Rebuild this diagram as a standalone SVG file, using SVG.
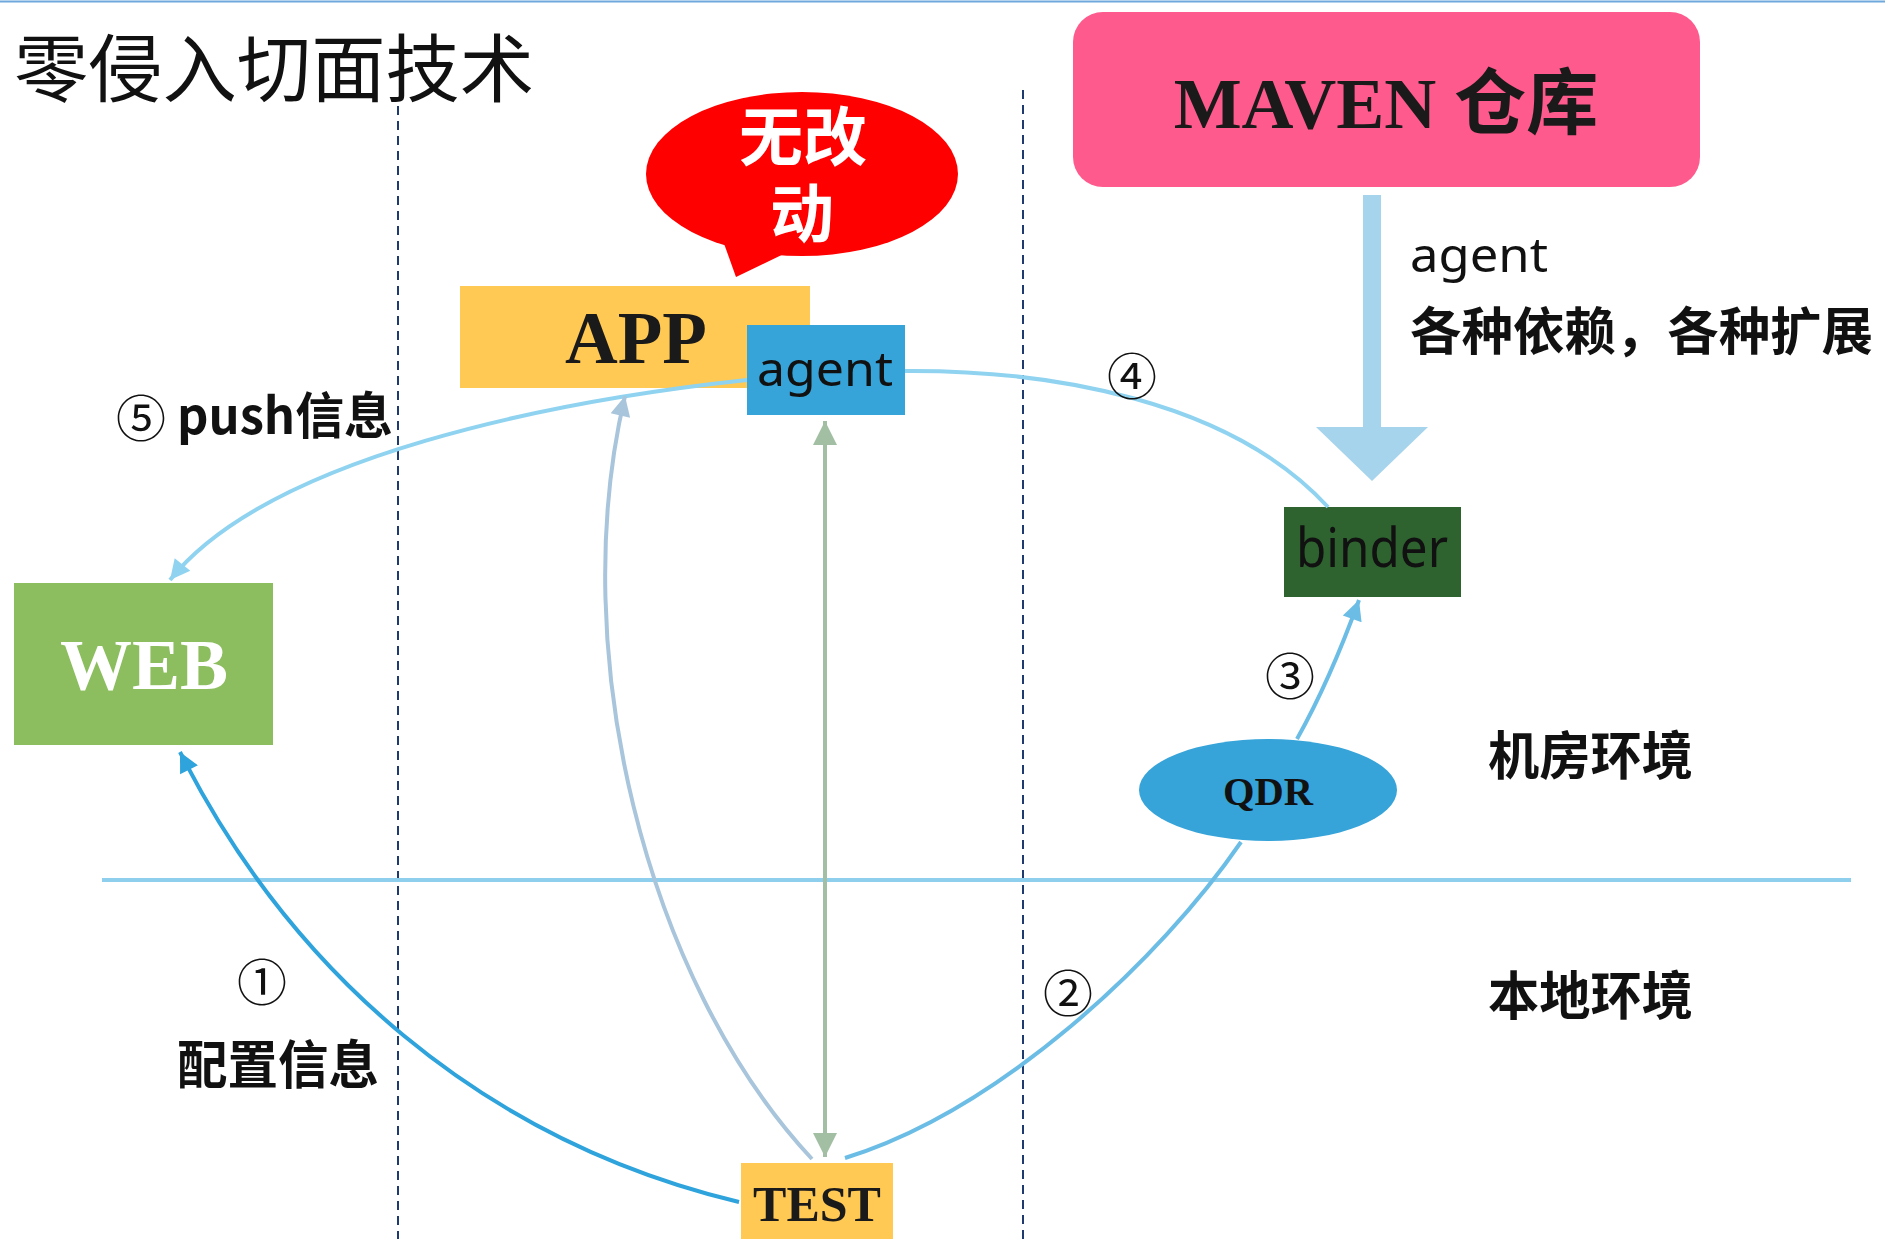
<svg xmlns="http://www.w3.org/2000/svg" width="1885" height="1239" viewBox="0 0 1885 1239">
<style>
.cjk{font-family:"Noto Sans CJK SC","Noto Sans",sans-serif;fill:#111}
.serifb{font-family:"Liberation Serif","Noto Sans CJK SC",serif;font-weight:bold;fill:#1a1a1a}
.sans{font-family:"Noto Sans","Liberation Sans",sans-serif;fill:#111}
.num{font-family:"DejaVu Serif","Noto Sans CJK SC",serif;font-size:50px;fill:#111;text-anchor:middle}
.dash{stroke:#1f3a6e;stroke-width:2;stroke-dasharray:9,6;fill:none}
.conn{fill:none;stroke-width:4}
.bub{font-family:"Liberation Sans","Noto Sans CJK SC",sans-serif;font-size:64px;font-weight:bold;fill:#ffffff;text-anchor:middle}
</style>
<defs>
<marker id="aBlue" viewBox="0 0 10 10" refX="10" refY="5" markerWidth="26" markerHeight="20" markerUnits="userSpaceOnUse" orient="auto"><path d="M0,0 L10,5 L0,10 z" fill="#2ea3dc"/></marker>
<marker id="aLight" viewBox="0 0 10 10" refX="10" refY="5" markerWidth="26" markerHeight="20" markerUnits="userSpaceOnUse" orient="auto"><path d="M0,0 L10,5 L0,10 z" fill="#8fd3f0"/></marker>
<marker id="aMid" viewBox="0 0 10 10" refX="10" refY="5" markerWidth="26" markerHeight="20" markerUnits="userSpaceOnUse" orient="auto"><path d="M0,0 L10,5 L0,10 z" fill="#6cbde6"/></marker>
<marker id="aGray" viewBox="0 0 10 10" refX="10" refY="5" markerWidth="26" markerHeight="20" markerUnits="userSpaceOnUse" orient="auto"><path d="M0,0 L10,5 L0,10 z" fill="#a8c5dc"/></marker>
<marker id="aGreen" viewBox="0 0 10 10" refX="10" refY="5" markerWidth="28" markerHeight="24" markerUnits="userSpaceOnUse" orient="auto-start-reverse"><path d="M0,0 L10,5 L0,10 z" fill="#a3bfa3"/></marker>
</defs>
<rect x="0" y="0" width="1885" height="1239" fill="#ffffff"/>
<line x1="0" y1="1.5" x2="1885" y2="1.5" stroke="#6fa8dc" stroke-width="2"/>

<text class="cjk" x="14" y="96" font-size="74" textLength="520" lengthAdjust="spacingAndGlyphs">零侵入切面技术</text>

<g id="dividers">
<line class="dash" x1="398" y1="106" x2="398" y2="1239"/>
<line class="dash" x1="1023" y1="90" x2="1023" y2="1239"/>
<line x1="102" y1="880" x2="1851" y2="880" stroke="#8ecfee" stroke-width="4"/>
</g>

<g id="maven">
<rect x="1073" y="12" width="627" height="175" rx="30" fill="#fe5a8d"/>
<text class="serifb" x="1386" y="128" font-size="72" text-anchor="middle">MAVEN 仓库</text>
</g>

<g id="bubble">
<ellipse cx="802" cy="174" rx="156" ry="82" fill="#fe0000"/>
<polygon points="722,238 736,277 792,250" fill="#fe0000"/>
<text class="bub" x="803" y="160">无改</text>
<text class="bub" x="802" y="237">动</text>
</g>

<g id="app">
<rect x="460" y="286" width="350" height="102" fill="#ffc954"/>
<text class="serifb" x="636" y="363" font-size="73" text-anchor="middle">APP</text>
</g>

<g id="web">
<rect x="14" y="583" width="259" height="162" fill="#8cbd5f"/>
<text class="serifb" x="144" y="689" font-size="72" text-anchor="middle" style="fill:#ffffff">WEB</text>
</g>

<g id="test">
<rect x="741" y="1163" width="152" height="80" fill="#ffc954"/>
<text class="serifb" x="817" y="1221" font-size="50" text-anchor="middle">TEST</text>
</g>

<g id="binder">
<rect x="1284" y="507" width="177" height="90" fill="#2e6330"/>
<text class="sans" x="1296" y="567" font-size="54" textLength="152" lengthAdjust="spacingAndGlyphs">binder</text>
</g>

<g id="qdr">
<ellipse cx="1268" cy="790" rx="129" ry="51" fill="#36a3d9"/>
<text font-family="Liberation Serif, serif" font-weight="bold" x="1268" y="805" font-size="40" text-anchor="middle" fill="#111" textLength="90" lengthAdjust="spacingAndGlyphs">QDR</text>
</g>

<g id="connectors">
<path class="conn" d="M739,1202 C480,1140 290,970 180,752" stroke="#2ea3dc" marker-end="url(#aBlue)"/>
<path class="conn" d="M747,380 C560,400 270,455 170,580" stroke="#8fd3f0" marker-end="url(#aLight)"/>
<path class="conn" d="M905,371 C1050,370 1230,400 1328,507" stroke="#8fd3f0"/>
<path class="conn" d="M845,1158 C1000,1110 1160,960 1241,842" stroke="#6cbde6"/>
<path class="conn" d="M1297,739 Q1330,680 1359,600" stroke="#6cbde6" marker-end="url(#aMid)"/>
<path class="conn" d="M812,1159 C645,980 565,650 625,396" stroke="#a8c5dc" stroke-width="3.5" marker-end="url(#aGray)"/>
<line class="conn" x1="825" y1="421" x2="825" y2="1157" stroke="#a3bfa3" marker-start="url(#aGreen)" marker-end="url(#aGreen)"/>
<g id="maven-arrow">
<rect x="1363" y="195" width="18" height="234" fill="#a6d4ec"/>
<polygon points="1316,427 1428,427 1372,481" fill="#a6d4ec"/>
</g>
</g>

<g id="agent">
<rect x="747" y="325" width="158" height="90" fill="#36a3d9"/>
<text class="sans" x="757" y="386" font-size="47" textLength="136" lengthAdjust="spacingAndGlyphs">agent</text>
</g>

<g id="labels">
<text class="num" x="141" y="437">⑤</text>
<text class="cjk" x="177" y="434" font-size="50" font-weight="bold" textLength="216" lengthAdjust="spacingAndGlyphs">push信息</text>
<text class="num" x="1132" y="395">④</text>
<text class="num" x="1290" y="695">③</text>
<text class="num" x="1068" y="1012">②</text>
<text class="num" x="262" y="1001">①</text>
<text class="cjk" x="177" y="1084" font-size="52" font-weight="bold" textLength="202" lengthAdjust="spacingAndGlyphs">配置信息</text>
<text class="cjk" x="1488" y="775" font-size="52" font-weight="bold" textLength="205" lengthAdjust="spacingAndGlyphs">机房环境</text>
<text class="cjk" x="1488" y="1015" font-size="52" font-weight="bold" textLength="205" lengthAdjust="spacingAndGlyphs">本地环境</text>
<text class="sans" x="1410" y="272" font-size="47" textLength="138" lengthAdjust="spacingAndGlyphs">agent</text>
<text class="cjk" x="1410" y="350" font-size="51" font-weight="bold" textLength="463" lengthAdjust="spacingAndGlyphs">各种依赖，各种扩展</text>
</g>
</svg>
